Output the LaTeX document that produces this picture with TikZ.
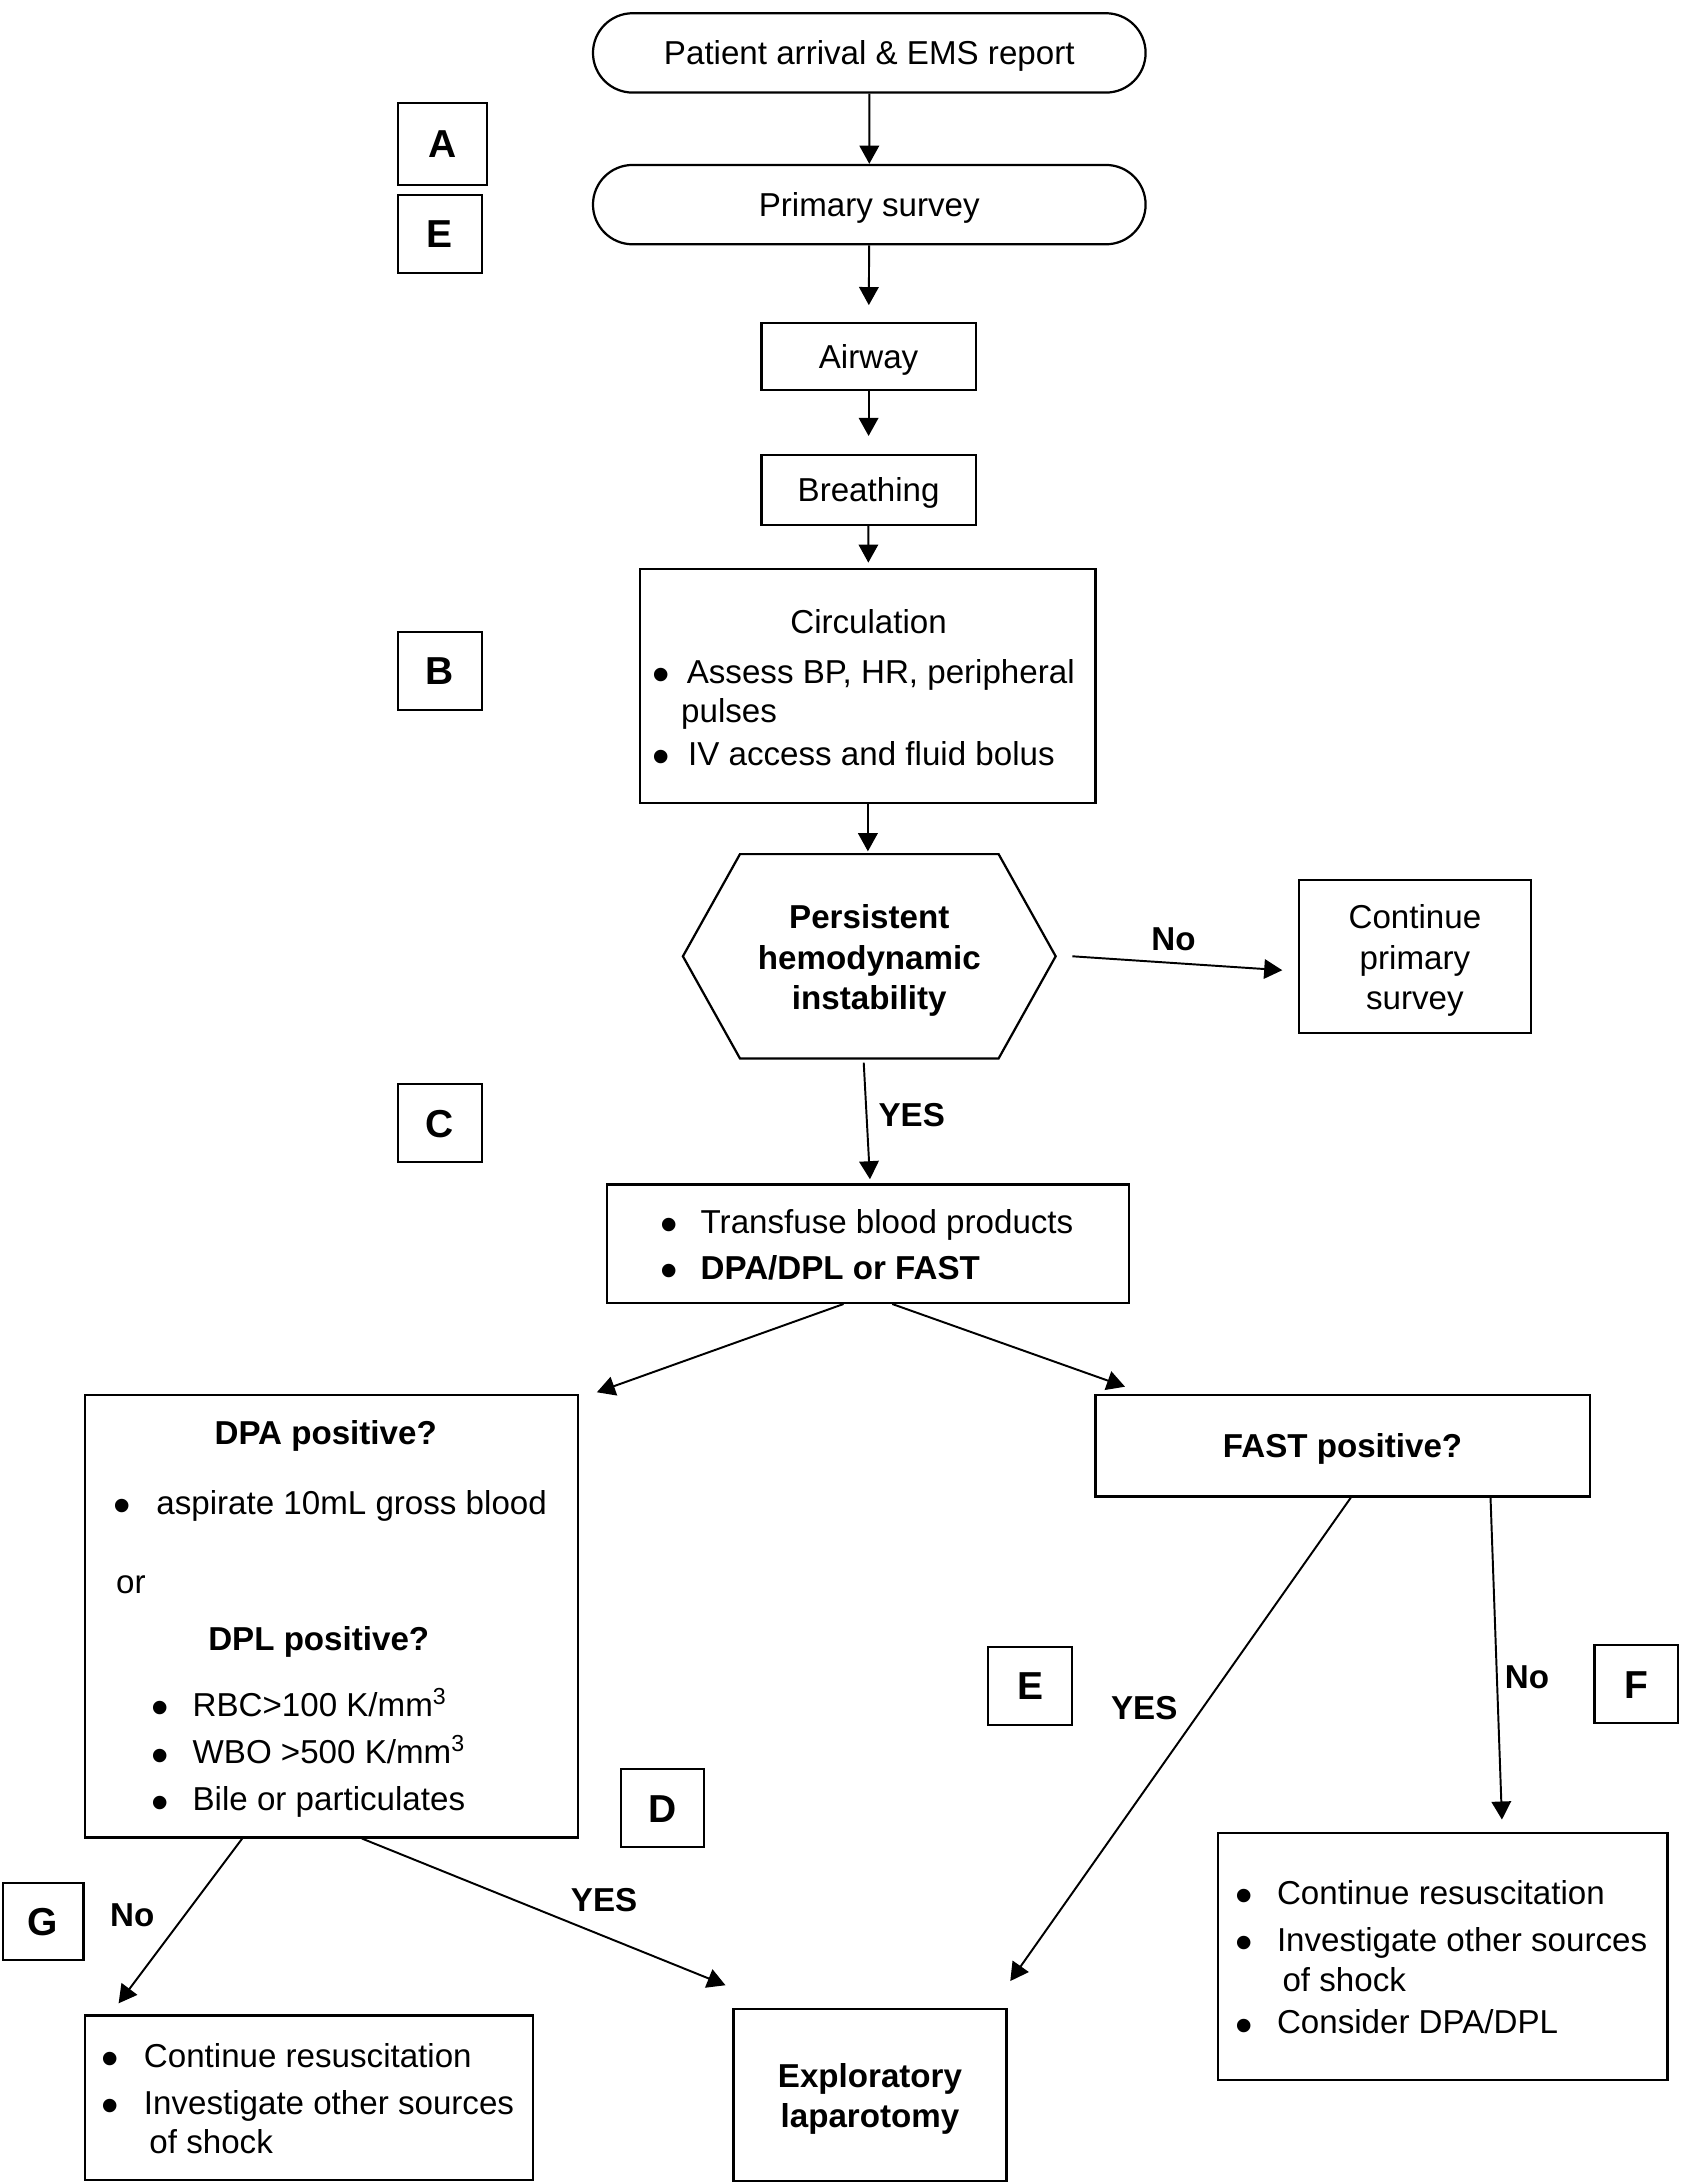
\documentclass[tikz,border=0pt]{standalone}
\usepackage{fontspec}
\setmainfont{Liberation Sans}
\usetikzlibrary{arrows.meta,calc,shapes.misc}
\begin{document}
\begin{tikzpicture}[x=0.5pt,y=-0.5pt,
  every node/.style={font=\fontsize{11.9}{14.5}\selectfont, inner sep=0pt},
  sl/.style={text height=10pt, text depth=1.5pt},
  box/.style={draw, line width=0.8pt, rectangle},
  stad/.style={draw, line width=0.8pt, rounded rectangle, sl, minimum width=198.5pt, minimum height=28.5pt},
  lbox/.style={draw, line width=0.8pt, font=\fontsize{14}{16}\selectfont\bfseries, text height=11.5pt, text depth=1.5pt, minimum width=30pt, minimum height=28pt},
  conn/.style={-{Triangle[length=6.5pt,width=7pt]}, line width=0.7pt},
  lbl/.style={font=\fontsize{11.9}{14.5}\selectfont\bfseries},
  txt/.style={anchor=base west},
  ctxt/.style={anchor=base},
  bul/.style={anchor=base, scale=1.5, text height=4pt, text depth=0pt},
]
\useasboundingbox (0,0) rectangle (1210,1569);

% main flow
\node[stad] (arr) at (624.5,38) {Patient arrival \& EMS report};
\node[stad] (prim) at (624.5,147) {Primary survey};
\node[box, sl, minimum width=77pt, minimum height=24pt] (air) at (624,256) {Airway};
\node[box, sl, minimum width=77pt, minimum height=25pt] (bre) at (624,352) {Breathing};
\node[box, minimum width=163.5pt, minimum height=84pt] (circ) at (623.5,493) {};
\node[minimum width=133.5pt, minimum height=73pt] (hex) at (624.5,687) {};
\draw[line width=0.8pt] (hex.west) -- ($(hex.north west)+(41,0)$) -- ($(hex.north east)+(-41,0)$) -- (hex.east) -- ($(hex.south east)+(-41,0)$) -- ($(hex.south west)+(41,0)$) -- cycle;
\node[lbl, align=center] (hexT) at (624.5,690) {Persistent\\hemodynamic\\instability};
\node[box, minimum width=83.5pt, minimum height=55pt] (cont) at (1016.5,687) {};
\node[align=center] (contT) at (1016.5,690) {Continue\\primary\\survey};
\node[box, minimum width=187.5pt, minimum height=42.5pt] (trans) at (623.5,893.5) {};
\node[box, minimum width=177pt, minimum height=159pt] (dpa) at (238,1161) {};
\node[box, lbl, sl, minimum width=177.5pt, minimum height=36.5pt] (fast) at (964.5,1038.5) {FAST positive?};
\node[box, minimum width=161.5pt, minimum height=88.5pt] (rb) at (1036.5,1405.5) {};
\node[box, minimum width=161pt, minimum height=59pt] (bl) at (222,1507) {};
\node[box, minimum width=98pt, minimum height=62pt] (lap) at (625,1505) {};
\node[lbl, align=center] (lapT) at (625,1508) {Exploratory\\laparotomy};

% circulation text
\node[ctxt] (circT) at (624,455) {Circulation};
\node[bul] (circB1) at (475,497) {•};
\node[txt] (circL1) at (493,491) {Assess BP, HR, peripheral};
\node[txt] (circL1b) at (489,519) {pulses};
\node[bul] (circB2) at (475,556) {•};
\node[txt] (circL2) at (494,550) {IV access and fluid bolus};

% transfuse text
\node[bul] (trB1) at (481,892) {•};
\node[txt] (trL1) at (503,886) {Transfuse blood products};
\node[bul] (trB2) at (481,925) {•};
\node[txt, lbl] (trL2) at (503,919) {DPA/DPL or FAST};

% DPA/DPL text
\node[ctxt, lbl] (dpaH) at (234,1038) {DPA positive?};
\node[bul] (dpaB1) at (88,1094) {•};
\node[txt] (dpaL1) at (112,1088) {aspirate 10mL gross blood};
\node[txt] (dpaOr) at (83,1145) {or};
\node[ctxt, lbl] (dplH) at (229,1186) {DPL positive?};
\node[bul] (dplB1) at (115,1239) {•};
\node[txt] (dplL1) at (138,1233) {RBC>100 K/mm\textsuperscript{3}};
\node[bul] (dplB2) at (115,1273) {•};
\node[txt] (dplL2) at (138,1267) {WBO >500 K/mm\textsuperscript{3}};
\node[bul] (dplB3) at (115,1307) {•};
\node[txt] (dplL3) at (138,1301) {Bile or particulates};

% right bottom text
\node[bul] (rbB1) at (894,1374) {•};
\node[txt] (rbL1) at (917,1368) {Continue resuscitation};
\node[bul] (rbB2) at (894,1408) {•};
\node[txt] (rbL2) at (917,1402) {Investigate other sources};
\node[txt] (rbL2b) at (921,1431) {of shock};
\node[bul] (rbB3) at (894,1467) {•};
\node[txt] (rbL3) at (917,1461) {Consider DPA/DPL};

% bottom left text
\node[bul] (blB1) at (79.5,1491) {•};
\node[txt] (blL1) at (103,1485) {Continue resuscitation};
\node[bul] (blB2) at (79.5,1525) {•};
\node[txt] (blL2) at (103,1519) {Investigate other sources};
\node[txt] (blL2b) at (107,1547) {of shock};

% letter boxes
\node[lbox, minimum width=32pt, minimum height=29.5pt] (lA) at (318,103.5) {A};
\node[lbox] (lE1) at (316,168) {E};
\node[lbox] (lB) at (316,482) {B};
\node[lbox] (lC) at (316,807) {C};
\node[lbox] (lE2) at (740,1211) {E};
\node[lbox] (lD) at (476,1299) {D};
\node[lbox] (lF) at (1175.5,1210) {F};
\node[lbox, minimum width=29pt, minimum height=27.5pt] (lG) at (31,1380.5) {G};

% edge labels
\node[lbl] (noH) at (843,675) {No};
\node[lbl] (yesH) at (655,801) {YES};
\node[lbl] (yesF) at (822,1227) {YES};
\node[lbl] (noF) at (1097,1205) {No};
\node[lbl] (noD) at (95,1376) {No};
\node[lbl] (yesD) at (434,1365) {YES};

% connectors
\draw[conn] (arr) -- (prim);
\draw[conn, shorten >=6pt] (prim) -- (air);
\draw[conn, shorten >=6.5pt] (air) -- (bre);
\draw[conn, shorten >=2pt] (bre) -- (circ);
\draw[conn] (circ.south) -- ($(hex.north)+(-1,-2)$);
\draw[conn] ($(hex.east)+(12,0)$) -- ($(cont.west)+(-11,10)$);
\draw[conn] ($(hex.south)+(-4,3)$) -- ($(trans.north)+(1.5,-3)$);
\draw[conn] ($(trans.south)+(-17.5,0)$) -- ($(dpa.north east)+(13,-1)$);
\draw[conn] ($(trans.south)+(17.5,0)$) -- ($(fast.north west)+(22,-5)$);
\draw[conn] ($(fast.south)+(6,0)$) -- ($(lap.north east)+(2,-19)$);
\draw[conn] ($(fast.south east)+(-72,0)$) -- ($(rb.north)+(42.5,-9)$);
\draw[conn] ($(dpa.south)+(-64,0)$) -- ($(bl.north west)+(25,-8)$);
\draw[conn] ($(dpa.south)+(22,0)$) -- ($(lap.north west)+(-5,-16)$);
\end{tikzpicture}
\end{document}
